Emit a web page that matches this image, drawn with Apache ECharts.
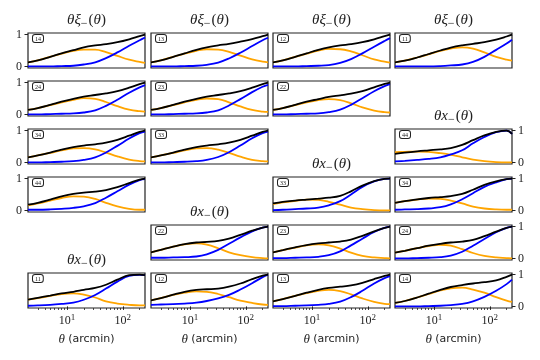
<!DOCTYPE html>
<html>
<head>
<meta charset="utf-8">
<script src="https://cdn.jsdelivr.net/npm/echarts@6/dist/echarts.min.js"></script>
<style>
  html, body { margin: 0; padding: 0; background: #fff; }
  #chart { width: 540px; height: 360px; }
</style>
</head>
<body>
<div id="chart"></div>
<script>
// angular scale, arcmin (sample points)
const theta = [2, 3, 5, 8, 13, 20, 32, 50, 80, 130, 200, 250];
const thetaMin = 2;
const thetaMax = 250;
const xMajorTicks = [10, 100];
const xMinorTicks = [3, 4, 5, 6, 7, 8, 9, 20, 30, 40, 50, 60, 70, 80, 90, 200];
const yTicks = [0, 1];

// theta * xi_-(theta), normalised; Total = black, A = orange, B = blue
const xi14Total = [0.13, 0.19, 0.30, 0.41, 0.51, 0.60, 0.66, 0.70, 0.76, 0.85, 0.95, 1.00];
const xi14A = [0.13, 0.19, 0.30, 0.40, 0.49, 0.53, 0.53, 0.45, 0.33, 0.21, 0.14, 0.11];
const xi14B = [0.00, 0.00, 0.00, 0.01, 0.02, 0.06, 0.13, 0.26, 0.44, 0.65, 0.82, 0.91];

const xi13Total = [0.13, 0.19, 0.30, 0.41, 0.52, 0.60, 0.66, 0.71, 0.78, 0.86, 0.95, 1.00];
const xi13A = [0.13, 0.19, 0.30, 0.40, 0.49, 0.54, 0.53, 0.46, 0.34, 0.22, 0.15, 0.13];
const xi13B = [0.00, 0.00, 0.00, 0.01, 0.02, 0.05, 0.12, 0.25, 0.43, 0.64, 0.82, 0.90];

const xi12Total = [0.13, 0.19, 0.30, 0.41, 0.52, 0.60, 0.66, 0.70, 0.76, 0.85, 0.95, 1.00];
const xi12A = [0.13, 0.19, 0.30, 0.40, 0.50, 0.55, 0.54, 0.47, 0.35, 0.22, 0.15, 0.12];
const xi12B = [0.00, 0.00, 0.00, 0.01, 0.02, 0.04, 0.11, 0.23, 0.41, 0.62, 0.80, 0.89];

const xi11Total = [0.13, 0.18, 0.28, 0.39, 0.50, 0.59, 0.66, 0.71, 0.76, 0.84, 0.94, 1.00];
const xi11A = [0.13, 0.18, 0.28, 0.38, 0.49, 0.56, 0.60, 0.56, 0.44, 0.30, 0.21, 0.18];
const xi11B = [0.00, 0.00, 0.00, 0.00, 0.01, 0.03, 0.06, 0.14, 0.30, 0.52, 0.72, 0.84];

const xi24Total = [0.14, 0.20, 0.30, 0.40, 0.49, 0.56, 0.61, 0.66, 0.73, 0.84, 0.95, 1.00];
const xi24A = [0.14, 0.20, 0.29, 0.38, 0.46, 0.51, 0.49, 0.39, 0.26, 0.15, 0.10, 0.09];
const xi24B = [0.00, 0.00, 0.01, 0.02, 0.03, 0.06, 0.13, 0.27, 0.46, 0.68, 0.85, 0.92];

const xi23Total = [0.14, 0.20, 0.30, 0.40, 0.49, 0.56, 0.61, 0.66, 0.73, 0.84, 0.95, 1.00];
const xi23A = [0.14, 0.20, 0.29, 0.38, 0.46, 0.50, 0.48, 0.38, 0.25, 0.14, 0.09, 0.08];
const xi23B = [0.00, 0.00, 0.01, 0.02, 0.03, 0.06, 0.13, 0.28, 0.48, 0.70, 0.87, 0.93];

const xi22Total = [0.14, 0.20, 0.30, 0.40, 0.48, 0.55, 0.60, 0.65, 0.73, 0.85, 0.96, 1.00];
const xi22A = [0.14, 0.20, 0.29, 0.38, 0.45, 0.48, 0.45, 0.35, 0.22, 0.12, 0.07, 0.06];
const xi22B = [0.00, 0.00, 0.01, 0.02, 0.03, 0.07, 0.15, 0.30, 0.51, 0.73, 0.89, 0.95];

const xi34Total = [0.16, 0.22, 0.31, 0.40, 0.48, 0.53, 0.57, 0.62, 0.71, 0.84, 0.96, 1.00];
const xi34A = [0.16, 0.22, 0.30, 0.38, 0.44, 0.45, 0.41, 0.31, 0.19, 0.09, 0.04, 0.03];
const xi34B = [0.00, 0.00, 0.01, 0.02, 0.04, 0.08, 0.16, 0.31, 0.52, 0.75, 0.92, 0.97];

const xi33Total = [0.16, 0.22, 0.31, 0.40, 0.48, 0.53, 0.57, 0.62, 0.71, 0.84, 0.96, 1.00];
const xi33A = [0.16, 0.22, 0.30, 0.38, 0.44, 0.45, 0.40, 0.30, 0.18, 0.08, 0.04, 0.03];
const xi33B = [0.00, 0.00, 0.01, 0.02, 0.04, 0.08, 0.17, 0.32, 0.53, 0.76, 0.92, 0.97];

const xi44Total = [0.18, 0.24, 0.34, 0.44, 0.52, 0.56, 0.59, 0.64, 0.73, 0.86, 0.97, 1.00];
const xi44A = [0.16, 0.22, 0.31, 0.39, 0.44, 0.43, 0.36, 0.24, 0.13, 0.05, 0.02, 0.02];
const xi44B = [0.02, 0.02, 0.03, 0.05, 0.08, 0.13, 0.23, 0.40, 0.60, 0.81, 0.95, 0.98];

// theta * x_-(theta)
const x44Total = [0.27, 0.31, 0.35, 0.38, 0.41, 0.45, 0.55, 0.70, 0.85, 0.96, 1.00, 0.90];
const x44A = [0.32, 0.33, 0.34, 0.33, 0.29, 0.24, 0.16, 0.09, 0.04, 0.01, 0.00, 0.00];
const x44B = [0.03, 0.05, 0.08, 0.11, 0.16, 0.25, 0.38, 0.60, 0.80, 0.95, 1.00, 0.90];

const x33Total = [0.22, 0.27, 0.31, 0.34, 0.37, 0.40, 0.46, 0.60, 0.78, 0.92, 0.99, 1.00];
const x33A = [0.20, 0.25, 0.30, 0.34, 0.33, 0.27, 0.18, 0.09, 0.04, 0.01, 0.00, 0.00];
const x33B = [0.01, 0.02, 0.04, 0.06, 0.09, 0.16, 0.29, 0.50, 0.74, 0.91, 0.99, 1.00];

const x34Total = [0.24, 0.29, 0.35, 0.39, 0.42, 0.45, 0.52, 0.65, 0.80, 0.91, 0.98, 1.00];
const x34A = [0.24, 0.29, 0.34, 0.37, 0.36, 0.31, 0.22, 0.12, 0.06, 0.03, 0.02, 0.02];
const x34B = [0.02, 0.03, 0.04, 0.06, 0.10, 0.19, 0.35, 0.54, 0.74, 0.88, 0.98, 1.00];

const x22Total = [0.19, 0.27, 0.37, 0.45, 0.50, 0.52, 0.55, 0.62, 0.74, 0.87, 0.97, 1.00];
const x22A = [0.19, 0.27, 0.37, 0.44, 0.47, 0.43, 0.32, 0.19, 0.10, 0.04, 0.01, 0.00];
const x22B = [0.02, 0.02, 0.03, 0.04, 0.06, 0.13, 0.27, 0.46, 0.66, 0.85, 0.97, 1.00];

const x23Total = [0.19, 0.26, 0.35, 0.42, 0.47, 0.50, 0.53, 0.59, 0.71, 0.85, 0.96, 1.00];
const x23A = [0.19, 0.26, 0.34, 0.41, 0.44, 0.41, 0.31, 0.18, 0.08, 0.03, 0.01, 0.00];
const x23B = [0.01, 0.01, 0.02, 0.03, 0.05, 0.10, 0.22, 0.41, 0.62, 0.83, 0.96, 1.00];

const x24Total = [0.18, 0.24, 0.32, 0.40, 0.46, 0.50, 0.53, 0.58, 0.70, 0.84, 0.96, 1.00];
const x24A = [0.18, 0.24, 0.32, 0.39, 0.43, 0.40, 0.29, 0.17, 0.08, 0.03, 0.01, 0.00];
const x24B = [0.00, 0.00, 0.01, 0.02, 0.04, 0.09, 0.21, 0.40, 0.61, 0.82, 0.96, 1.00];

const x11Total = [0.21, 0.27, 0.34, 0.41, 0.46, 0.52, 0.58, 0.68, 0.84, 0.98, 1.00, 0.98];
const x11A = [0.21, 0.26, 0.33, 0.39, 0.41, 0.37, 0.28, 0.16, 0.09, 0.05, 0.03, 0.03];
const x11B = [0.02, 0.03, 0.05, 0.08, 0.12, 0.21, 0.36, 0.56, 0.78, 0.96, 0.99, 0.98];

const x12Total = [0.19, 0.26, 0.37, 0.46, 0.52, 0.54, 0.56, 0.62, 0.72, 0.86, 0.97, 1.00];
const x12A = [0.19, 0.26, 0.36, 0.43, 0.47, 0.46, 0.39, 0.29, 0.18, 0.11, 0.06, 0.05];
const x12B = [0.05, 0.06, 0.07, 0.09, 0.12, 0.17, 0.25, 0.36, 0.53, 0.73, 0.92, 1.00];

const x13Total = [0.16, 0.23, 0.33, 0.43, 0.52, 0.58, 0.62, 0.66, 0.74, 0.86, 0.96, 1.00];
const x13A = [0.16, 0.23, 0.33, 0.42, 0.49, 0.52, 0.48, 0.38, 0.25, 0.14, 0.08, 0.07];
const x13B = [0.01, 0.01, 0.02, 0.03, 0.05, 0.08, 0.15, 0.29, 0.49, 0.72, 0.89, 0.95];

const x14Total = [0.11, 0.17, 0.28, 0.40, 0.52, 0.61, 0.67, 0.72, 0.76, 0.82, 0.93, 1.00];
const x14A = [0.11, 0.17, 0.28, 0.39, 0.50, 0.57, 0.59, 0.53, 0.43, 0.29, 0.18, 0.14];
const x14B = [0.00, 0.00, 0.00, 0.01, 0.02, 0.04, 0.08, 0.16, 0.30, 0.49, 0.70, 0.84];

// layout
const colLeft = [28, 151, 273, 395];
const rowTop = [33, 81, 129, 177, 225, 273];
const panelW = 117;
const panelH = 35;
const mathFont = '"Liberation Serif", "DejaVu Serif", serif';
const sansFont = '"DejaVu Sans", sans-serif';
const ink = '#222';

const panels = [
  { label: '14', row: 0, col: 0, ticks: 'left', total: xi14Total, a: xi14A, b: xi14B },
  { label: '13', row: 0, col: 1, total: xi13Total, a: xi13A, b: xi13B },
  { label: '12', row: 0, col: 2, total: xi12Total, a: xi12A, b: xi12B },
  { label: '11', row: 0, col: 3, total: xi11Total, a: xi11A, b: xi11B },
  { label: '24', row: 1, col: 0, ticks: 'left', total: xi24Total, a: xi24A, b: xi24B },
  { label: '23', row: 1, col: 1, total: xi23Total, a: xi23A, b: xi23B },
  { label: '22', row: 1, col: 2, total: xi22Total, a: xi22A, b: xi22B },
  { label: '34', row: 2, col: 0, ticks: 'left', total: xi34Total, a: xi34A, b: xi34B },
  { label: '33', row: 2, col: 1, total: xi33Total, a: xi33A, b: xi33B },
  { label: '44', row: 2, col: 3, ticks: 'right', total: x44Total, a: x44A, b: x44B },
  { label: '44', row: 3, col: 0, ticks: 'left', total: xi44Total, a: xi44A, b: xi44B },
  { label: '33', row: 3, col: 2, total: x33Total, a: x33A, b: x33B },
  { label: '34', row: 3, col: 3, ticks: 'right', total: x34Total, a: x34A, b: x34B },
  { label: '22', row: 4, col: 1, total: x22Total, a: x22A, b: x22B },
  { label: '23', row: 4, col: 2, total: x23Total, a: x23A, b: x23B },
  { label: '24', row: 4, col: 3, ticks: 'right', total: x24Total, a: x24A, b: x24B },
  { label: '11', row: 5, col: 0, total: x11Total, a: x11A, b: x11B },
  { label: '12', row: 5, col: 1, total: x12Total, a: x12A, b: x12B },
  { label: '13', row: 5, col: 2, total: x13Total, a: x13A, b: x13B },
  { label: '14', row: 5, col: 3, ticks: 'right', total: x14Total, a: x14A, b: x14B }
];

const xiTitle = '{i|θξ}{s|−}{n|(}{i|θ}{n|)}';
const xTitle = '{i|θx}{s|−}{n|(}{i|θ}{n|)}';
const headings = [
  { text: xiTitle, row: 0, col: 0 },
  { text: xiTitle, row: 0, col: 1 },
  { text: xiTitle, row: 0, col: 2 },
  { text: xiTitle, row: 0, col: 3 },
  { text: xTitle, row: 2, col: 3 },
  { text: xTitle, row: 3, col: 2 },
  { text: xTitle, row: 4, col: 1 },
  { text: xTitle, row: 5, col: 0 }
];

const mathRich = {
  i: { fontFamily: mathFont, fontStyle: 'italic', fontSize: 15, lineHeight: 18, fill: ink },
  n: { fontFamily: mathFont, fontSize: 15, lineHeight: 18, fill: ink },
  s: { fontFamily: mathFont, fontSize: 12, lineHeight: 18, padding: [7, 1, 0, 0], fill: ink }
};

const grid = [];
const xAxis = [];
const yAxis = [];
const series = [];
const graphic = [];

panels.forEach((p, i) => {
  const left = colLeft[p.col];
  const top = rowTop[p.row];
  const bottomRow = p.row === 5;
  grid.push({
    left, top, width: panelW, height: panelH,
    show: true, borderColor: ink, borderWidth: 1.2, backgroundColor: 'transparent'
  });

  const xIndex = xAxis.length;
  xAxis.push({
    type: 'log', logBase: 10, gridIndex: i, min: thetaMin, max: thetaMax, position: 'bottom',
    axisLine: { show: false },
    splitLine: { show: false },
    axisTick: { show: bottomRow, customValues: xMajorTicks, length: 3.5, lineStyle: { color: ink, width: 1 } },
    axisLabel: {
      show: bottomRow, customValues: xMajorTicks, margin: 5,
      formatter: (v) => '{b|10}{e|' + Math.round(Math.log10(v)) + '}',
      rich: {
        b: { fontFamily: mathFont, fontSize: 12, color: ink },
        e: { fontFamily: mathFont, fontSize: 9, color: ink, padding: [0, 0, 7, 0] }
      }
    },
    name: bottomRow ? '{m|θ} {t|(arcmin)}' : '',
    nameLocation: 'middle', nameGap: 25,
    nameTextStyle: {
      rich: {
        m: { fontFamily: mathFont, fontStyle: 'italic', fontSize: 13, color: ink },
        t: { fontFamily: sansFont, fontSize: 11, color: ink }
      }
    }
  });
  if (bottomRow) {
    // minor ticks: a second axis pulled down onto the bottom spine
    xAxis.push({
      type: 'log', logBase: 10, gridIndex: i, min: thetaMin, max: thetaMax, position: 'top', offset: -panelH,
      axisLine: { show: false },
      splitLine: { show: false },
      axisTick: { show: true, inside: true, customValues: xMinorTicks, length: 2, lineStyle: { color: ink, width: 0.8 } },
      axisLabel: { show: false }
    });
  }

  yAxis.push({
    type: 'value', gridIndex: i, min: -0.05, max: 1.05, position: p.ticks || 'left',
    axisLine: { show: false },
    splitLine: { show: false },
    axisTick: { show: !!p.ticks, customValues: yTicks, length: 3.5, lineStyle: { color: ink, width: 1 } },
    axisLabel: { show: !!p.ticks, customValues: yTicks, margin: 6, fontFamily: mathFont, fontSize: 12, color: ink }
  });

  [[p.a, '#ffa500'], [p.b, '#0000ff'], [p.total, '#000000']].forEach(([vals, color]) => {
    series.push({
      type: 'line', xAxisIndex: xIndex, yAxisIndex: i,
      data: theta.map((t, k) => [t, vals[k]]),
      smooth: 0.4, symbol: 'none', silent: true,
      lineStyle: { color, width: 1.8 }
    });
  });

  graphic.push({
    type: 'text', x: left + 5, y: top + 2, z: 10,
    style: {
      text: p.label, fontFamily: mathFont, fontSize: 6, fill: ink,
      padding: [1, 2, 0, 2], borderColor: ink, borderWidth: 1, borderRadius: 2, backgroundColor: '#fff'
    }
  });
});

headings.forEach((h) => {
  graphic.push({
    type: 'text', x: colLeft[h.col] + panelW / 2, y: rowTop[h.row] - 13,
    style: { text: h.text, rich: mathRich, align: 'center', verticalAlign: 'middle' }
  });
});

const chart = echarts.init(document.getElementById('chart'));
chart.setOption({
  animation: false,
  backgroundColor: '#fff',
  grid, xAxis, yAxis, series, graphic
});
</script>
</body>
</html>
